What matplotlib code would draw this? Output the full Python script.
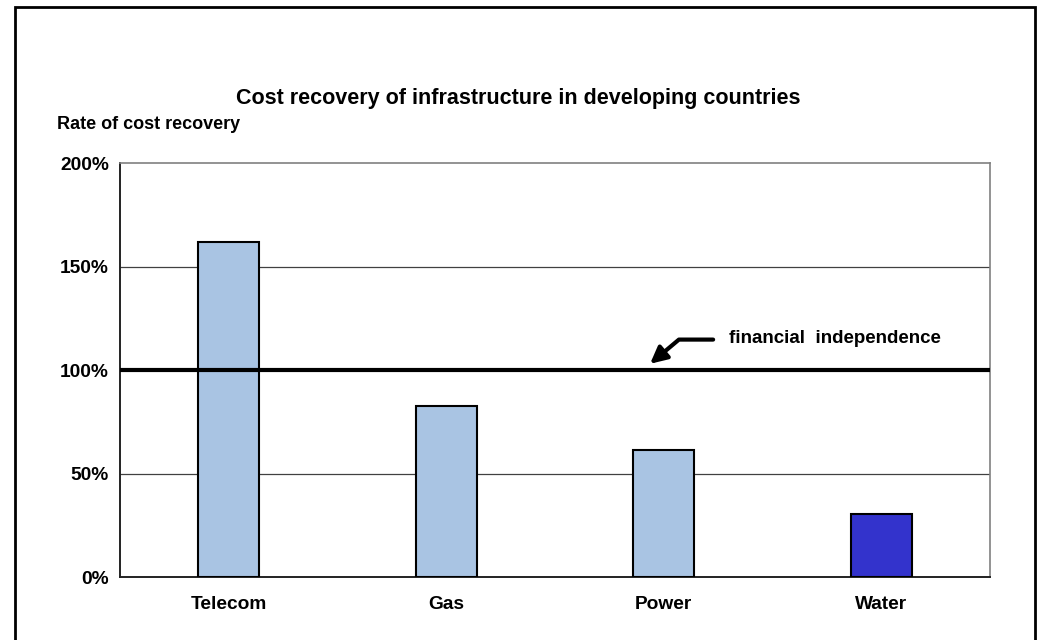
import matplotlib.pyplot as plt
from matplotlib.patches import Rectangle
from matplotlib.ticker import FuncFormatter

sectors = ['Telecom', 'Gas', 'Power', 'Water']
recovery = [162, 82.5, 61.5, 30.5]
bar_colors = ['#a9c4e3', '#a9c4e3', '#a9c4e3', '#3333cc']
threshold = 100
y_ticks = [0, 50, 100, 150, 200]


def main():
    plt.rcParams['font.family'] = ['Liberation Sans', 'DejaVu Sans']
    plt.rcParams['font.weight'] = 'bold'

    fig = plt.figure(figsize=(10.37, 6.4), dpi=100)
    ax = fig.add_axes([0.1157, 0.0984, 0.8390, 0.6469])

    x = range(len(sectors))
    ax.bar(x, recovery, width=0.28, color=bar_colors, edgecolor='black',
           linewidth=1.5, zorder=3)

    ax.set_xlim(-0.5, len(sectors) - 0.5)
    ax.set_ylim(0, 200)
    ax.set_yticks(y_ticks)
    ax.yaxis.set_major_formatter(FuncFormatter(lambda v, _: f'{v:.0f}%'))
    ax.set_xticks(list(x))
    ax.set_xticklabels(sectors)
    ax.tick_params(axis='both', length=0, labelsize=13.8)
    ax.tick_params(axis='x', pad=14)
    ax.tick_params(axis='y', pad=8)

    for v in y_ticks[1:-1]:
        if v != threshold:
            ax.axhline(v, color='#404040', linewidth=0.9, zorder=1)
    ax.axhline(threshold, color='black', linewidth=3, zorder=4)

    for side in ['top', 'right']:
        ax.spines[side].set_color('#808080')
        ax.spines[side].set_linewidth(1.2)
    for side in ['left', 'bottom']:
        ax.spines[side].set_color('#222222')
        ax.spines[side].set_linewidth(1.4)

    # arrow pointing at the 100% line
    ax.annotate('', xy=(1.937, 103), xytext=(2.227, 114.7),
                arrowprops=dict(arrowstyle='-|>,head_length=1.0,head_width=0.5',
                                connectionstyle='angle,angleA=0,angleB=40,rad=0',
                                color='black', lw=3, shrinkA=0, shrinkB=0),
                zorder=5)
    ax.text(2.30, 115, 'financial  independence', fontsize=13.5,
            fontweight='bold', va='center', ha='left')

    fig.text(0.5, 0.846, 'Cost recovery of infrastructure in developing countries',
             ha='center', va='center', fontsize=15.5, fontweight='bold')
    fig.text(0.055, 0.806, 'Rate of cost recovery', ha='left', va='center',
             fontsize=13, fontweight='bold')

    # outer chart border
    fig.add_artist(Rectangle((15 / 1037, -0.05), 1020 / 1037, 1.05 - 7 / 640,
                             transform=fig.transFigure, fill=False,
                             edgecolor='black', linewidth=2))

    fig.savefig('out.png', dpi=100, facecolor='white')


if __name__ == '__main__':
    main()
